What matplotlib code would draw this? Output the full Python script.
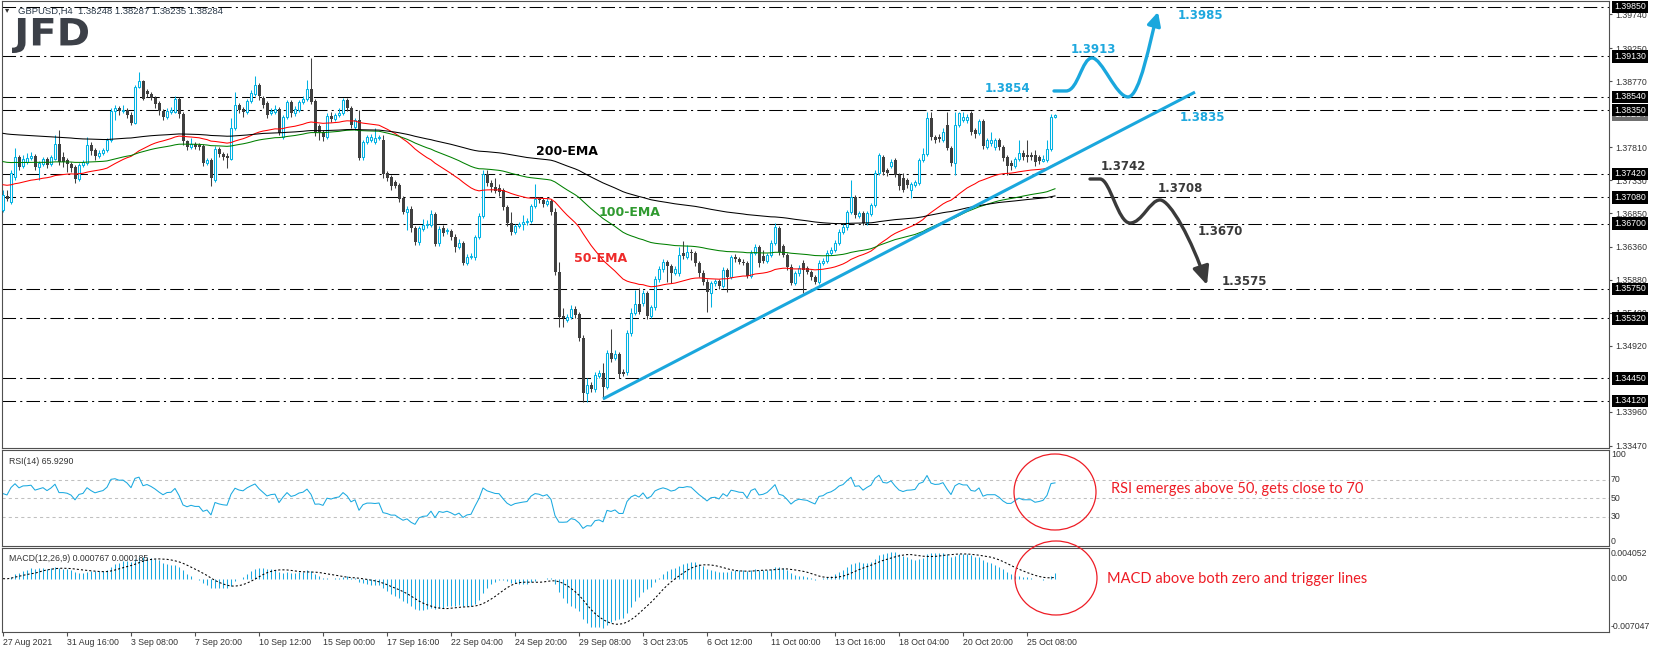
import numpy as np
import pandas as pd
import matplotlib
matplotlib.use("Agg")
import matplotlib.pyplot as plt
import matplotlib.transforms as mtrans
from matplotlib.patches import Ellipse, FancyArrowPatch, PathPatch
from matplotlib.path import Path
from matplotlib.textpath import TextPath
from matplotlib.font_manager import FontProperties

# GBPUSD H4, 27 Aug 2021 - 26 Oct 2021
opens = [
    1.3690, 1.3710, 1.3701, 1.3738, 1.3767, 1.3754, 1.3759, 1.3765, 1.3768, 1.3752,
    1.3757, 1.3764, 1.3757, 1.3764, 1.3786, 1.3767, 1.3762, 1.3757, 1.3752, 1.3735,
    1.3755, 1.3758, 1.3784, 1.3777, 1.3768, 1.3773, 1.3777, 1.3791, 1.3834, 1.3838,
    1.3834, 1.3835, 1.3828, 1.3816, 1.3868, 1.3877, 1.3863, 1.3858, 1.3852, 1.3845,
    1.3834, 1.3825, 1.3832, 1.3832, 1.3851, 1.3829, 1.3790, 1.3781, 1.3786, 1.3784,
    1.3783, 1.3758, 1.3762, 1.3733, 1.3778, 1.3771, 1.3768, 1.3764, 1.3809, 1.3842,
    1.3836, 1.3832, 1.3848, 1.3858, 1.3871, 1.3852, 1.3845, 1.3831, 1.3832, 1.3836,
    1.3796, 1.3825, 1.3847, 1.3831, 1.3835, 1.3847, 1.3851, 1.3866, 1.3848, 1.3812,
    1.3803, 1.3796, 1.3826, 1.3822, 1.3828, 1.3831, 1.3850, 1.3838, 1.3810, 1.3821,
    1.3767, 1.3789, 1.3791, 1.3789, 1.3794, 1.3791, 1.3743, 1.3738, 1.3730, 1.3726,
    1.3707, 1.3687, 1.3691, 1.3663, 1.3643, 1.3662, 1.3668, 1.3668, 1.3684, 1.3642,
    1.3663, 1.3659, 1.3659, 1.3650, 1.3636, 1.3642, 1.3613, 1.3621, 1.3621, 1.3650,
    1.3681, 1.3742, 1.3729, 1.3723, 1.3722, 1.3719, 1.3694, 1.3671, 1.3658, 1.3666,
    1.3669, 1.3672, 1.3674, 1.3695, 1.3706, 1.3704, 1.3698, 1.3703, 1.3687, 1.3600,
    1.3536, 1.3530, 1.3534, 1.3546, 1.3538, 1.3504, 1.3424, 1.3435, 1.3429, 1.3448,
    1.3453, 1.3432, 1.3482, 1.3475, 1.3480, 1.3454, 1.3454, 1.3511, 1.3540, 1.3553,
    1.3554, 1.3569, 1.3536, 1.3549, 1.3589, 1.3604, 1.3614, 1.3608, 1.3598, 1.3598,
    1.3627, 1.3621, 1.3629, 1.3627, 1.3613, 1.3598, 1.3585, 1.3569, 1.3584, 1.3586,
    1.3579, 1.3602, 1.3592, 1.3621, 1.3618, 1.3614, 1.3613, 1.3594, 1.3627, 1.3636,
    1.3623, 1.3616, 1.3624, 1.3642, 1.3663, 1.3637, 1.3624, 1.3607, 1.3584, 1.3598,
    1.3613, 1.3605, 1.3600, 1.3592, 1.3585, 1.3613, 1.3616, 1.3627, 1.3632, 1.3642,
    1.3658, 1.3665, 1.3687, 1.3709, 1.3681, 1.3685, 1.3671, 1.3684, 1.3697, 1.3743,
    1.3767, 1.3748, 1.3754, 1.3762, 1.3741, 1.3736, 1.3733, 1.3719, 1.3726, 1.3729,
    1.3762, 1.3771, 1.3823, 1.3796, 1.3796, 1.3791, 1.3813, 1.3780, 1.3758, 1.3813,
    1.3821, 1.3821, 1.3831, 1.3806, 1.3802, 1.3819, 1.3781, 1.3787, 1.3781, 1.3791,
    1.3781, 1.3767, 1.3758, 1.3754, 1.3764, 1.3773, 1.3770, 1.3770, 1.3770, 1.3767,
    1.3761, 1.3762, 1.3778, 1.38248,
]
closes = [
    1.3711, 1.3706, 1.3743, 1.3767, 1.3752, 1.3764, 1.3765, 1.3768, 1.3752, 1.3758,
    1.3764, 1.3755, 1.3767, 1.3786, 1.3759, 1.3759, 1.3757, 1.3751, 1.3735, 1.3755,
    1.3759, 1.3784, 1.3775, 1.3768, 1.3773, 1.3777, 1.3791, 1.3834, 1.3838, 1.3834,
    1.3835, 1.3828, 1.3816, 1.3868, 1.3877, 1.3851, 1.3858, 1.3852, 1.3844, 1.3834,
    1.3825, 1.3834, 1.3835, 1.3851, 1.3829, 1.3790, 1.3781, 1.3786, 1.3781, 1.3781,
    1.3758, 1.3762, 1.3736, 1.3778, 1.3771, 1.3767, 1.3765, 1.3809, 1.3842, 1.3835,
    1.3832, 1.3848, 1.3860, 1.3871, 1.3855, 1.3842, 1.3828, 1.3834, 1.3836, 1.3802,
    1.3825, 1.3847, 1.3831, 1.3836, 1.3847, 1.3851, 1.3866, 1.3847, 1.3802, 1.3803,
    1.3796, 1.3826, 1.3822, 1.3828, 1.3831, 1.3850, 1.3838, 1.3813, 1.3821, 1.3765,
    1.3789, 1.3796, 1.3796, 1.3794, 1.3796, 1.3742, 1.3736, 1.3725, 1.3725, 1.3706,
    1.3687, 1.3691, 1.3663, 1.3643, 1.3663, 1.3668, 1.3669, 1.3684, 1.3640, 1.3662,
    1.3656, 1.3660, 1.3650, 1.3636, 1.3642, 1.3613, 1.3621, 1.3623, 1.3650, 1.3681,
    1.3742, 1.3729, 1.3723, 1.3717, 1.3716, 1.3694, 1.3671, 1.3658, 1.3666, 1.3669,
    1.3672, 1.3674, 1.3695, 1.3706, 1.3704, 1.3698, 1.3703, 1.3687, 1.3600, 1.3534,
    1.3533, 1.3534, 1.3546, 1.3537, 1.3504, 1.3424, 1.3435, 1.3429, 1.3450, 1.3453,
    1.3432, 1.3482, 1.3473, 1.3480, 1.3451, 1.3451, 1.3511, 1.3540, 1.3553, 1.3541,
    1.3569, 1.3536, 1.3549, 1.3589, 1.3604, 1.3614, 1.3608, 1.3598, 1.3604, 1.3624,
    1.3623, 1.3629, 1.3627, 1.3613, 1.3598, 1.3585, 1.3570, 1.3584, 1.3586, 1.3579,
    1.3602, 1.3592, 1.3621, 1.3618, 1.3614, 1.3613, 1.3594, 1.3627, 1.3636, 1.3613,
    1.3616, 1.3624, 1.3642, 1.3665, 1.3629, 1.3624, 1.3607, 1.3584, 1.3598, 1.3605,
    1.3602, 1.3600, 1.3592, 1.3585, 1.3613, 1.3616, 1.3627, 1.3632, 1.3642, 1.3658,
    1.3665, 1.3687, 1.3709, 1.3682, 1.3685, 1.3671, 1.3685, 1.3697, 1.3743, 1.3770,
    1.3745, 1.3743, 1.3759, 1.3741, 1.3725, 1.3719, 1.3726, 1.3727, 1.3730, 1.3762,
    1.3771, 1.3823, 1.3796, 1.3791, 1.3793, 1.3803, 1.3780, 1.3758, 1.3813, 1.3831,
    1.3825, 1.3825, 1.3803, 1.3800, 1.3819, 1.3783, 1.3791, 1.3791, 1.3791, 1.3781,
    1.3765, 1.3754, 1.3754, 1.3764, 1.3773, 1.3767, 1.3767, 1.3767, 1.3759, 1.3761,
    1.3764, 1.3778, 1.3825, 1.38284,
]
highs = [
    1.3719, 1.3719, 1.3748, 1.3780, 1.3770, 1.3770, 1.3773, 1.3774, 1.3771, 1.3761,
    1.3767, 1.3767, 1.3770, 1.3799, 1.3806, 1.3774, 1.3765, 1.3759, 1.3755, 1.3758,
    1.3762, 1.3796, 1.3789, 1.3780, 1.3777, 1.3780, 1.3794, 1.3838, 1.3842, 1.3841,
    1.3842, 1.3838, 1.3832, 1.3871, 1.3890, 1.3879, 1.3866, 1.3861, 1.3855, 1.3848,
    1.3836, 1.3838, 1.3839, 1.3855, 1.3854, 1.3832, 1.3791, 1.3794, 1.3789, 1.3787,
    1.3786, 1.3765, 1.3765, 1.3783, 1.3781, 1.3774, 1.3773, 1.3823, 1.3861, 1.3845,
    1.3839, 1.3851, 1.3864, 1.3884, 1.3874, 1.3855, 1.3848, 1.3838, 1.3842, 1.3839,
    1.3828, 1.3850, 1.3850, 1.3841, 1.3850, 1.3855, 1.3879, 1.3911, 1.3851, 1.3815,
    1.3806, 1.3831, 1.3832, 1.3831, 1.3838, 1.3852, 1.3852, 1.3841, 1.3823, 1.3835,
    1.3791, 1.3799, 1.3800, 1.3809, 1.3799, 1.3799, 1.3746, 1.3741, 1.3733, 1.3729,
    1.3710, 1.3695, 1.3695, 1.3666, 1.3666, 1.3677, 1.3675, 1.3690, 1.3687, 1.3666,
    1.3668, 1.3663, 1.3662, 1.3655, 1.3648, 1.3645, 1.3626, 1.3627, 1.3653, 1.3685,
    1.3748, 1.3748, 1.3733, 1.3736, 1.3727, 1.3722, 1.3697, 1.3687, 1.3669, 1.3672,
    1.3682, 1.3678, 1.3698, 1.3727, 1.3709, 1.3707, 1.3707, 1.3706, 1.3693, 1.3614,
    1.3547, 1.3538, 1.3552, 1.3550, 1.3541, 1.3508, 1.3445, 1.3440, 1.3454, 1.3457,
    1.3467, 1.3486, 1.3517, 1.3486, 1.3483, 1.3459, 1.3515, 1.3547, 1.3573, 1.3576,
    1.3573, 1.3572, 1.3552, 1.3594, 1.3608, 1.3618, 1.3617, 1.3611, 1.3608, 1.3636,
    1.3645, 1.3639, 1.3633, 1.3630, 1.3616, 1.3602, 1.3589, 1.3586, 1.3589, 1.3589,
    1.3607, 1.3605, 1.3624, 1.3626, 1.3621, 1.3618, 1.3616, 1.3632, 1.3640, 1.3639,
    1.3632, 1.3627, 1.3646, 1.3671, 1.3666, 1.3640, 1.3627, 1.3611, 1.3601, 1.3610,
    1.3617, 1.3608, 1.3602, 1.3595, 1.3617, 1.3620, 1.3632, 1.3636, 1.3646, 1.3662,
    1.3669, 1.3690, 1.3733, 1.3711, 1.3688, 1.3688, 1.3688, 1.3700, 1.3748, 1.3773,
    1.3770, 1.3751, 1.3764, 1.3765, 1.3743, 1.3743, 1.3736, 1.3730, 1.3733, 1.3765,
    1.3780, 1.3832, 1.3832, 1.3799, 1.3800, 1.3809, 1.3832, 1.3783, 1.3832, 1.3832,
    1.3832, 1.3829, 1.3834, 1.3809, 1.3822, 1.3822, 1.3794, 1.3803, 1.3794, 1.3794,
    1.3784, 1.3770, 1.3762, 1.3767, 1.3791, 1.3777, 1.3791, 1.3774, 1.3777, 1.3770,
    1.3770, 1.3791, 1.3829, 1.38287,
]
lows = [
    1.3687, 1.3703, 1.3698, 1.3733, 1.3748, 1.3751, 1.3757, 1.3762, 1.3748, 1.3733,
    1.3754, 1.3751, 1.3754, 1.3762, 1.3755, 1.3752, 1.3745, 1.3745, 1.3729, 1.3732,
    1.3752, 1.3755, 1.3770, 1.3762, 1.3765, 1.3770, 1.3774, 1.3789, 1.3821, 1.3828,
    1.3831, 1.3823, 1.3813, 1.3815, 1.3867, 1.3850, 1.3854, 1.3850, 1.3838, 1.3828,
    1.3821, 1.3822, 1.3829, 1.3831, 1.3823, 1.3784, 1.3777, 1.3778, 1.3778, 1.3777,
    1.3754, 1.3755, 1.3725, 1.3730, 1.3767, 1.3762, 1.3751, 1.3762, 1.3806, 1.3831,
    1.3825, 1.3829, 1.3845, 1.3855, 1.3850, 1.3838, 1.3823, 1.3828, 1.3829, 1.3799,
    1.3793, 1.3822, 1.3825, 1.3826, 1.3832, 1.3844, 1.3848, 1.3844, 1.3797, 1.3791,
    1.3790, 1.3793, 1.3818, 1.3819, 1.3825, 1.3828, 1.3834, 1.3809, 1.3806, 1.3762,
    1.3762, 1.3786, 1.3789, 1.3786, 1.3791, 1.3736, 1.3732, 1.3719, 1.3722, 1.3701,
    1.3684, 1.3661, 1.3658, 1.3639, 1.3639, 1.3659, 1.3663, 1.3665, 1.3637, 1.3637,
    1.3652, 1.3655, 1.3646, 1.3629, 1.3633, 1.3610, 1.3610, 1.3618, 1.3617, 1.3648,
    1.3678, 1.3725, 1.3716, 1.3714, 1.3710, 1.3690, 1.3666, 1.3653, 1.3655, 1.3663,
    1.3661, 1.3668, 1.3671, 1.3693, 1.3700, 1.3694, 1.3695, 1.3682, 1.3595, 1.3520,
    1.3520, 1.3527, 1.3531, 1.3533, 1.3499, 1.3411, 1.3411, 1.3425, 1.3425, 1.3445,
    1.3415, 1.3429, 1.3469, 1.3472, 1.3445, 1.3448, 1.3450, 1.3506, 1.3537, 1.3538,
    1.3550, 1.3531, 1.3533, 1.3544, 1.3585, 1.3600, 1.3585, 1.3584, 1.3595, 1.3594,
    1.3618, 1.3618, 1.3617, 1.3608, 1.3592, 1.3581, 1.3541, 1.3549, 1.3579, 1.3575,
    1.3576, 1.3570, 1.3589, 1.3614, 1.3611, 1.3610, 1.3591, 1.3591, 1.3624, 1.3607,
    1.3613, 1.3613, 1.3621, 1.3639, 1.3624, 1.3621, 1.3602, 1.3581, 1.3581, 1.3594,
    1.3569, 1.3597, 1.3588, 1.3582, 1.3582, 1.3610, 1.3613, 1.3624, 1.3629, 1.3639,
    1.3655, 1.3661, 1.3684, 1.3678, 1.3678, 1.3668, 1.3668, 1.3681, 1.3694, 1.3741,
    1.3741, 1.3739, 1.3751, 1.3738, 1.3719, 1.3716, 1.3722, 1.3707, 1.3723, 1.3726,
    1.3759, 1.3768, 1.3791, 1.3787, 1.3789, 1.3789, 1.3777, 1.3754, 1.3741, 1.3810,
    1.3818, 1.3816, 1.3799, 1.3794, 1.3799, 1.3778, 1.3778, 1.3783, 1.3777, 1.3777,
    1.3761, 1.3741, 1.3748, 1.3751, 1.3761, 1.3762, 1.3759, 1.3762, 1.3754, 1.3757,
    1.3759, 1.3759, 1.3775, 1.38235,
]

levels = [1.3985, 1.3913, 1.3854, 1.3835, 1.3742, 1.3708, 1.3670, 1.3575, 1.3532, 1.3445, 1.3412]
price_ticks = [1.3974, 1.3925, 1.3877, 1.3781, 1.3733, 1.3685, 1.3636, 1.3588, 1.3540, 1.3492, 1.3396, 1.3347]
last_price = 1.38284
date_labels = ['27 Aug 2021', '31 Aug 16:00', '3 Sep 08:00', '7 Sep 20:00', '10 Sep 12:00',
               '15 Sep 00:00', '17 Sep 16:00', '22 Sep 04:00', '24 Sep 20:00', '29 Sep 08:00',
               '3 Oct 23:05', '6 Oct 12:00', '11 Oct 00:00', '13 Oct 16:00', '18 Oct 04:00',
               '20 Oct 20:00', '25 Oct 08:00']
ema_periods = [50, 100, 200]
ema_start = [1.3727, 1.3761, 1.3802]      # EMA values carried in from before the window
ema_colors = ['#ff0000', '#008000', '#000000']
rsi_label = 'RSI(14) 65.9290'
macd_label = 'MACD(12,26,9) 0.000767 0.000185'

# trendline and scenario paths (bar index, price)
trend_x = [150, 298]
trend_y = [1.3415, 1.3861]
up_path = [(262.75, 1.38627), (265.75, 1.38627), (268.75, 1.38627), (269.75, 1.39107),
           (272.25, 1.39107), (274.75, 1.39107), (278.25, 1.38540), (281.25, 1.38540),
           (284.25, 1.38540), (286.75, 1.39368), (288.75, 1.39776)]
down_path = [(271.75, 1.37347), (274.25, 1.37347), (276.75, 1.37347), (278.75, 1.36707),
             (281.75, 1.36707), (284.75, 1.36707), (286.75, 1.37042), (289.25, 1.37042),
             (291.75, 1.37042), (297.25, 1.36461), (301.0, 1.35806)]

BLUE = '#00b2e3'
DARK = '#404040'
RED = '#ee1c25'
SMALL = 6.3
SANS = ['Liberation Sans', 'DejaVu Sans']

o = np.array(opens); c = np.array(closes); h = np.array(highs); l = np.array(lows)
idx = np.arange(len(c))
bull = c >= o

def ema(values, period, start):
    a = 2.0 / (period + 1)
    e, out = start, []
    for v in values:
        e = e + a * (v - e)
        out.append(e)
    return np.array(out)

def rsi(values, first_open, n=14):
    ag = al = np.abs(np.diff(values[:n + 1])).mean() / 2
    prev, out = first_open, []
    for v in values:
        d = v - prev
        prev = v
        ag = (ag * (n - 1) + max(d, 0)) / n
        al = (al * (n - 1) + max(-d, 0)) / n
        out.append(100 * ag / (ag + al))
    return np.array(out)

s = pd.Series(c)
macd = (s.ewm(span=12, adjust=False).mean() - s.ewm(span=26, adjust=False).mean()).values
signal = pd.Series(macd).rolling(9, min_periods=1).mean().values
rsi_vals = rsi(c, o[0])

W, H = 1655, 653
fig = plt.figure(figsize=(W / 100, H / 100), dpi=100, facecolor='white')

def px_axes(x0, y0, x1, y1):
    return fig.add_axes([x0 / W, 1 - y1 / H, (x1 - x0) / W, (y1 - y0) / H])

ax = px_axes(2, 1, 1609, 448)
ax_rsi = px_axes(2, 450, 1609, 546)
ax_macd = px_axes(2, 548, 1609, 632)
for a in (ax, ax_rsi, ax_macd):
    a.set_xlim(-0.25, 401.5)
    for sp in a.spines.values():
        sp.set_color('#505050')
        sp.set_linewidth(0.8)
    a.set_xticks([])
    a.set_yticks([])

# ---- price panel ----
ax.set_ylim(1.33436, 1.39935)
for lv in levels:
    ax.axhline(lv, color='black', lw=0.75, linestyle=(0, (13, 4, 2, 4)), zorder=1)

ax.vlines(idx, l, h, colors=np.where(bull, BLUE, DARK), lw=0.75, zorder=2)
ax.bar(idx[bull], (c - o)[bull], bottom=o[bull], width=0.5, facecolor='white',
       edgecolor=BLUE, linewidth=0.75, zorder=3)
ax.bar(idx[~bull], (o - c)[~bull], bottom=c[~bull], width=0.75, color=DARK, lw=0, zorder=3)

for p, st, col in zip(ema_periods, ema_start, ema_colors):
    ax.plot(idx, ema(c, p, st), color=col, lw=0.75, zorder=4)

ax.plot(trend_x, trend_y, color='#1aa7dd', lw=2.2, solid_capstyle='butt', zorder=5)

codes = [Path.MOVETO, Path.LINETO] + [Path.CURVE4] * 9
ax.add_patch(FancyArrowPatch(path=Path(up_path, codes), arrowstyle='-|>,head_length=0.8,head_width=0.4',
                             mutation_scale=10, lw=2.4, color='#1aa7dd', zorder=6))
ax.add_patch(FancyArrowPatch(path=Path(down_path, codes), arrowstyle='-|>,head_length=1.0,head_width=0.45',
                             mutation_scale=11, lw=2.4, color='#3a3a3a', zorder=6))

bold = dict(family='DejaVu Sans', fontweight='bold', va='center', ha='left', zorder=7)
for x, y, t in [(245.5, 1.38656, '1.3854'), (267.0, 1.39223, '1.3913'),
                (293.75, 1.39717, '1.3985'), (294.25, 1.38234, '1.3835')]:
    ax.text(x, y, t, color='#1ea8de', fontsize=8.5, **bold)
for x, y, t in [(274.5, 1.37536, '1.3742'), (288.75, 1.37202, '1.3708'),
                (298.75, 1.36577, '1.3670'), (304.75, 1.35864, '1.3575')]:
    ax.text(x, y, t, color='#3a3a3a', fontsize=8.5, **bold)
ax.text(133.25, 1.3774, '200-EMA', color='black', fontsize=9, **bold)
ax.text(149.0, 1.36853, '100-EMA', color='#2f9a2f', fontsize=9, **bold)
ax.text(142.75, 1.36184, '50-EMA', color='#ee2a2a', fontsize=9, **bold)

# right price scale
ax.yaxis.set_ticks_position('right')
ax.set_yticks(price_ticks, [f'{t:.5f}' for t in price_ticks])
ax.tick_params(axis='y', length=2.2, width=0.8, pad=2.2, color='#505050',
               labelsize=SMALL, labelcolor='#333333', labelfontfamily=SANS)
blend = mtrans.blended_transform_factory(ax.transAxes, ax.transData)
xlab = (1614 - 2) / 1607
ax.text(xlab, last_price, f'{last_price:.5f}', transform=blend, fontsize=SMALL, family=SANS,
        color='white', va='center', ha='left', clip_on=False, zorder=8,
        bbox=dict(boxstyle='square,pad=0.2', fc='#707070', ec='none'))
for lv in levels:
    ax.text(xlab, lv, f'{lv:.5f}', transform=blend, fontsize=SMALL, family=SANS,
            color='white', va='center', ha='left', clip_on=False, zorder=9,
            bbox=dict(boxstyle='square,pad=0.2', fc='black', ec='none'))

# ---- RSI panel ----
ax_rsi.set_ylim(-1.35, 102.4)
for lv in (70, 50, 30):
    ax_rsi.axhline(lv, color='#c0c0c0', lw=0.75, linestyle=(0, (3, 3)))
ax_rsi.plot(idx, rsi_vals, color='#1aa9e0', lw=0.75)
ax_rsi.text(7 / 1607, 0.93, rsi_label, transform=ax_rsi.transAxes,
            fontsize=SMALL, family=SANS, color='#333333', va='top')
rbl = mtrans.blended_transform_factory(ax_rsi.transAxes, ax_rsi.transData)
for v, yv, va in [(100, 102, 'top'), (70, 70, 'center'), (50, 50, 'center'), (30, 30, 'center'), (0, -1, 'bottom')]:
    ax_rsi.text((1611 - 2) / 1607, yv, str(v), transform=rbl,
                fontsize=SMALL, family=SANS, color='#333333', va=va, ha='left', clip_on=False)

# ---- MACD panel ----
ax_macd.set_ylim(-0.007047, 0.004052)
ax_macd.vlines(idx, 0, macd, colors='#1aa9e0', lw=0.75)
ax_macd.plot(idx, signal, color='black', lw=0.75, linestyle=(0, (2, 2)))
ax_macd.text(7 / 1607, 0.93, macd_label,
             transform=ax_macd.transAxes, fontsize=SMALL, family=SANS, color='#333333', va='top')
mbl = mtrans.blended_transform_factory(ax_macd.transAxes, ax_macd.transData)
for v, t, va in [(0.0039, '0.004052', 'top'), (0.0, '0.00', 'center'), (-0.0069, '-0.007047', 'bottom')]:
    ax_macd.text((1611 - 2) / 1607, v, t, transform=mbl, fontsize=SMALL, family=SANS,
                 color='#333333', va=va, ha='left', clip_on=False)

ax_macd.set_xticks(np.arange(0, 16 * len(date_labels), 16), date_labels)
ax_macd.tick_params(axis='x', length=3, width=0.8, pad=1.5, color='#505050',
                    labelsize=SMALL, labelcolor='#333333', labelfontfamily=SANS)
for lbl in ax_macd.get_xticklabels():
    lbl.set_ha('left')

# ---- header, logo, notes ----
fig.text(5 / W, 1 - 10 / H, '\u25be', fontsize=6, color='#333333', va='center')
fig.text(18 / W, 1 - 11 / H, 'GBPUSD,H4  1.38248 1.38287 1.38235 1.38284', fontsize=SMALL + 0.5,
         family=SANS, color='#2b3a4a', va='center')

tp = TextPath((0, 0), 'JFD', size=100, prop=FontProperties(family='DejaVu Sans', weight='bold'))
bb = tp.get_extents()
logo_tf = mtrans.Affine2D().translate(-bb.x0, -bb.y0).scale(76 / bb.width, 35 / bb.height).translate(12, H - 53)
fig.add_artist(PathPatch(tp, transform=logo_tf, fc='#3c4048', ec='none'))

fig.add_artist(Ellipse((1055 / W, 1 - 492 / H), 82 / W, 76 / H, transform=fig.transFigure,
                       fill=False, ec=RED, lw=0.9))
fig.add_artist(Ellipse((1056 / W, 1 - 578 / H), 82 / W, 74 / H, transform=fig.transFigure,
                       fill=False, ec=RED, lw=0.9))
fig.text(1111 / W, 1 - 489 / H, 'RSI emerges above 50, gets close to 70', color=RED,
         fontsize=10.5, family=['Lato', 'DejaVu Sans'], va='center')
fig.text(1107 / W, 1 - 579 / H, 'MACD above both zero and trigger lines', color=RED,
         fontsize=10.5, family=['Lato', 'DejaVu Sans'], va='center')

fig.savefig('out.png', dpi=100, facecolor='white')
